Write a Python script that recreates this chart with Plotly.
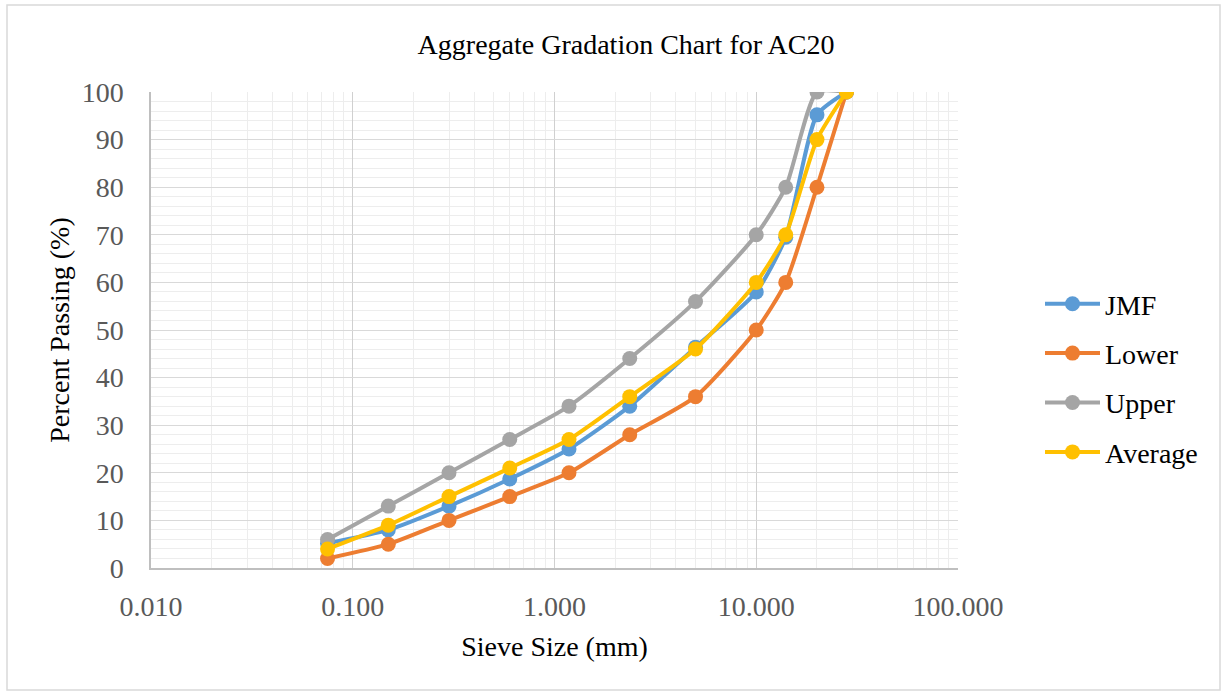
import plotly.graph_objects as go

sieve_mm = [0.075, 0.15, 0.3, 0.6, 1.18, 2.36, 5, 10, 14, 20, 28]
jmf = [5.2, 8, 13, 18.7, 25, 34, 46.4, 58, 69.5, 95.2, 100]
lower = [2, 5, 10, 15, 20, 28, 36, 50, 60, 80, 100]
upper = [6, 13, 20, 27, 34, 44, 56, 70, 80, 100, 100]
average = [4, 9, 15, 21, 27, 36, 46, 60, 70, 90, 100]

series = [
    ("JMF", jmf, "#5B9BD5"),
    ("Lower", lower, "#ED7D31"),
    ("Upper", upper, "#A5A5A5"),
    ("Average", average, "#FFC000"),
]

FONT = "Liberation Serif, Times New Roman, serif"
FS = 28

fig = go.Figure()
for name, vals, color in series:
    fig.add_trace(go.Scatter(
        x=sieve_mm, y=vals, name=name, mode="lines+markers", legendgroup=name,
        line=dict(color=color, width=4, shape="spline", smoothing=0.6),
        marker=dict(color=color, size=15),
    ))

L, R, T, B = 151, 263, 92, 123
PW, PH = 1221 - L - R, 691 - T - B

fig.update_layout(
    width=1221, height=691,
    margin=dict(l=L, r=R, t=T, b=B),
    paper_bgcolor="white", plot_bgcolor="white",
    font=dict(family=FONT, color="#595959", size=FS),
    title=dict(text="Aggregate Gradation Chart for AC20", x=(400 + 852) / 2 / 1221,
               xanchor="center", y=1 - 44 / 691, yanchor="middle",
               font=dict(family=FONT, size=FS, color="#000000")),
    showlegend=True,
    legend=dict(x=(1040 - L) / PW, xanchor="left", y=(568 - 378) / PH, yanchor="middle",
                font=dict(family=FONT, size=FS, color="#000000"),
                tracegroupgap=10, itemwidth=55, bgcolor="rgba(0,0,0,0)"),
    xaxis=dict(
        type="log", range=[-2, 2],
        tickvals=[0.01, 0.1, 1, 10, 100],
        ticktext=["0.010", "0.100", "1.000", "10.000", "100.000"],
        showgrid=True, gridcolor="#D0D0D0", gridwidth=1,
        minor=dict(dtick="D1", showgrid=True, gridcolor="#EDEDED", gridwidth=1),
        showline=True, linecolor="#BFBFBF", linewidth=1.5, mirror=False,
        ticks="outside", ticklen=13, tickcolor="rgba(0,0,0,0)",
        zeroline=False,
        title=dict(text="Sieve Size (mm)", font=dict(family=FONT, size=FS, color="#000000"), standoff=15),
    ),
    yaxis=dict(
        range=[0, 100], dtick=10,
        showgrid=True, gridcolor="#D9D9D9", gridwidth=1,
        minor=dict(dtick=2, showgrid=True, gridcolor="#EDEDED", gridwidth=1),
        showline=True, linecolor="#BFBFBF", linewidth=1.5,
        ticks="outside", ticklen=20, tickcolor="rgba(0,0,0,0)",
        zeroline=False,
        title=dict(text="Percent Passing (%)", font=dict(family=FONT, size=FS, color="#000000"), standoff=4),
    ),
    shapes=[dict(type="rect", xref="paper", yref="paper",
                 x0=(7 - L) / PW, x1=(1220 - L) / PW,
                 y0=(568 - 690) / PH, y1=(568 - 5) / PH,
                 line=dict(color="#D9D9D9", width=1.5), fillcolor="rgba(0,0,0,0)", layer="below")],
)

fig.write_html("out.html")
